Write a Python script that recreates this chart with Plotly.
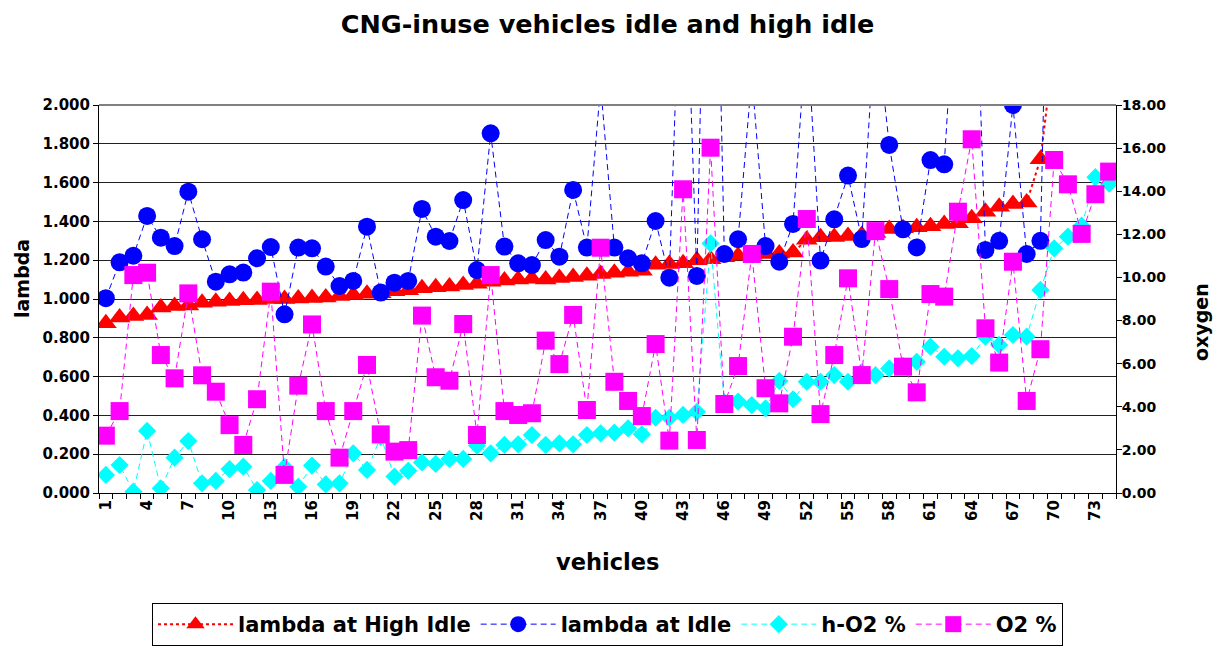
import plotly.graph_objects as go

# ---------------- data ----------------
vehicles = list(range(1, 75))
tick_vehicles = [1, 4, 7, 10, 13, 16, 19, 22, 25, 28, 31, 34, 37, 40, 43, 46, 49, 52, 55, 58, 61, 64, 67, 70, 73]
tick_labels = [str(v) for v in tick_vehicles]

lambda_high_idle = [
    0.875, 0.905, 0.913, 0.918, 0.956, 0.964, 0.967, 0.981, 0.986, 0.990,
    0.993, 0.995, 1.000, 1.000, 1.003, 1.005, 1.008, 1.015, 1.020, 1.027,
    1.030, 1.040, 1.045, 1.055, 1.060, 1.065, 1.072, 1.078, 1.089, 1.095,
    1.100, 1.105, 1.100, 1.108, 1.113, 1.120, 1.129, 1.135, 1.140, 1.146,
    1.177, 1.180, 1.184, 1.200, 1.205, 1.215, 1.223, 1.228, 1.232, 1.235,
    1.240, 1.305, 1.318, 1.320, 1.325, 1.330, 1.340, 1.361, 1.365, 1.370,
    1.375, 1.387, 1.390, 1.416, 1.450, 1.476, 1.490, 1.498, 1.720, 2.300,
    None, None, None, None,
]

lambda_idle = [
    1.004, 1.189, 1.223, 1.428, 1.316, 1.273, 1.553, 1.308, 1.089, 1.127,
    1.136, 1.210, 1.268, 0.921, 1.265, 1.261, 1.167, 1.067, 1.093, 1.373,
    1.033, 1.084, 1.093, 1.464, 1.321, 1.299, 1.510, 1.149, 1.854, 1.270,
    1.184, 1.175, 1.304, 1.218, 1.562, 1.265, 2.100, 1.265, 1.210, 1.184,
    1.402, 1.110, 3.200, 1.119, 4.500, 1.232, 1.308, 2.150, 1.273, 1.192,
    1.387, 2.400, 1.198, 1.411, 1.636, 1.309, 2.450, 1.794, 1.359, 1.266,
    1.716, 1.694, 2.830, 3.350, 1.253, 1.300, 2.000, 1.232, 1.300, 4.400,
    None, None, None, None,
]

h_o2 = [
    0.84, 1.30, 0.06, 2.88, 0.22, 1.64, 2.41, 0.45, 0.56, 1.11,
    1.22, 0.14, 0.56, 1.20, 0.29, 1.27, 0.40, 0.45, 1.84, 1.07,
    2.60, 0.76, 1.03, 1.42, 1.35, 1.58, 1.58, 2.20, 1.84, 2.23,
    2.26, 2.69, 2.23, 2.30, 2.26, 2.69, 2.77, 2.80, 3.00, 2.72,
    3.49, 3.49, 3.62, 3.77, 11.58, 4.20, 4.24, 4.08, 3.93, 5.20,
    4.35, 5.16, 5.16, 5.47, 5.16, 5.60, 5.47, 5.78, 5.90, 6.09,
    6.79, 6.32, 6.25, 6.35, 7.25, 6.87, 7.33, 7.25, 9.42, 11.35,
    11.89, 12.40, 14.65, 14.35,
]

o2 = [
    2.66, 3.80, 10.11, 10.22, 6.40, 5.32, 9.26, 5.46, 4.70, 3.15,
    2.23, 4.35, 9.34, 0.84, 4.98, 7.82, 3.80, 1.64, 3.80, 5.94,
    2.72, 1.92, 1.99, 8.23, 5.37, 5.21, 7.84, 2.69, 10.11, 3.80,
    3.62, 3.70, 7.07, 5.98, 8.26, 3.85, 11.38, 5.16, 4.27, 3.57,
    6.91, 2.43, 14.09, 2.46, 16.02, 4.13, 5.89, 11.09, 4.86, 4.16,
    7.25, 12.71, 3.66, 6.40, 9.96, 5.47, 12.15, 9.46, 5.86, 4.67,
    9.23, 9.11, 13.05, 16.41, 7.64, 6.05, 10.73, 4.27, 6.67, 15.45,
    14.32, 12.02, 13.86, 14.91,
]

# ---------------- figure ----------------
FONT = "DejaVu Sans"
fig = go.Figure()

fig.add_trace(go.Scatter(
    x=vehicles, y=lambda_high_idle, name="lambda at High Idle", mode="lines+markers",
    line=dict(color="#FF0000", width=2, dash="3px,3px"),
    marker=dict(symbol="triangle-up", size=19, color="#FF0000", line=dict(width=0)),
    yaxis="y",
))
fig.add_trace(go.Scatter(
    x=vehicles, y=lambda_idle, name="lambda at Idle", mode="lines+markers",
    line=dict(color="#0000FF", width=1, dash="6px,4px"),
    marker=dict(symbol="circle", size=18, color="#0000FF", line=dict(width=0)),
    yaxis="y",
))
fig.add_trace(go.Scatter(
    x=vehicles, y=h_o2, name="h-O2 %", mode="lines+markers",
    line=dict(color="#00FFFF", width=1, dash="6px,4px"),
    marker=dict(symbol="diamond", size=14, color="#00FFFF", line=dict(width=0)),
    yaxis="y2",
))
fig.add_trace(go.Scatter(
    x=vehicles, y=o2, name="O2 %", mode="lines+markers",
    line=dict(color="#FF00FF", width=1, dash="6px,4px"),
    marker=dict(symbol="square", size=18, color="#FF00FF", line=dict(width=0)),
    yaxis="y2",
))

fig.update_layout(
    width=1219, height=640,
    margin=dict(l=91, r=111, t=97, b=155, autoexpand=False),
    plot_bgcolor="white", paper_bgcolor="white",
    font=dict(family=FONT, weight="bold", color="black", size=15),
    title=dict(text="CNG-inuse vehicles idle and high idle", x=0.5, xref="paper",
               xanchor="center", y=1 - 16 / 640, yref="container", yanchor="middle",
               font=dict(family=FONT, weight="bold", size=25.5, color="black")),
    xaxis=dict(range=[0.5, 74.5], tickmode="array", tickvals=tick_vehicles, ticktext=tick_labels,
               ticks="", tickangle=-90, showline=True, linecolor="black", linewidth=1,
               showgrid=False, zeroline=False,
               tickfont=dict(family=FONT, weight="bold", size=15),
               minor=dict(ticks="outside", tick0=0.5, dtick=1, ticklen=5, tickcolor="black",
                          tickwidth=1, showgrid=False)),
    yaxis=dict(range=[0, 2], dtick=0.2, tick0=0, tickformat=".3f", ticks="outside", ticklen=5,
               tickcolor="black", showline=True, linecolor="black", linewidth=1,
               showgrid=True, gridcolor="#202020", gridwidth=1, zeroline=False,
               tickfont=dict(family=FONT, weight="bold", size=15)),
    yaxis2=dict(range=[0, 18], dtick=2, tick0=0, tickformat=".2f", overlaying="y", side="right",
                ticks="outside", ticklen=5, tickcolor="black", showline=True, linecolor="black",
                linewidth=1, showgrid=False, zeroline=False, ticklabelstandoff=-3,
                tickfont=dict(family=FONT, weight="bold", size=14)),
    legend=dict(orientation="h", x=0.5, xanchor="center", y=(493 - 603) / 388, yanchor="top",
                bordercolor="black", borderwidth=1, itemwidth=75,
                font=dict(family=FONT, weight="bold", size=21, color="black")),
    shapes=[dict(type="line", xref="paper", yref="paper", x0=0, x1=1, y0=1, y1=1,
                 line=dict(color="#808080", width=2))],
    annotations=[
        dict(text="<b>vehicles</b>", xref="paper", yref="paper", x=0.5, y=(493 - 562) / 388,
             xanchor="center", yanchor="middle", showarrow=False,
             font=dict(family=FONT, size=22.5, color="black")),
        dict(text="<b>lambda</b>", xref="paper", yref="paper", x=(22 - 99) / 1017, y=(493 - 279) / 388,
             xanchor="center", yanchor="middle", textangle=-90, showarrow=False,
             font=dict(family=FONT, size=19, color="black")),
        dict(text="<b>oxygen</b>", xref="paper", yref="paper", x=(1201 - 99) / 1017, y=(493 - 322) / 388,
             xanchor="center", yanchor="middle", textangle=-90, showarrow=False,
             font=dict(family=FONT, size=19, color="black")),
    ],
)

fig.write_html("out.html")
